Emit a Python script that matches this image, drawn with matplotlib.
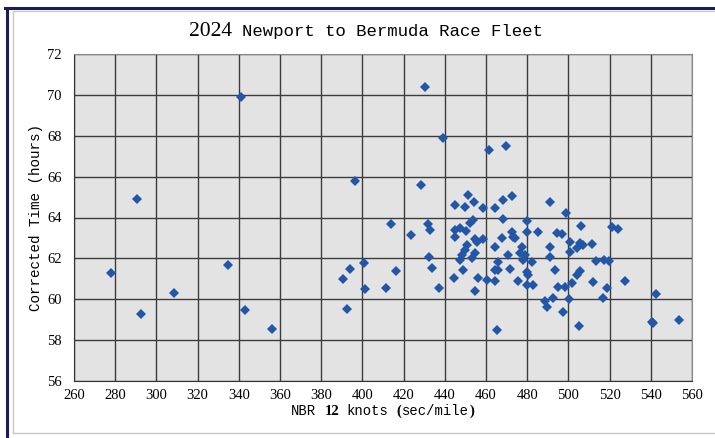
import matplotlib
matplotlib.use("Agg")
import matplotlib.pyplot as plt
from matplotlib.lines import Line2D

# NBR 12 knots (sec/mile) vs corrected time (hours)
nbr = [278, 290.4, 292.7, 308.5, 334.6, 340.9, 343.2, 356, 390.7, 392.7, 394.1, 396.6,
       400.8, 401.3, 411.3, 413.9, 416.2, 423.6,
       428.6, 430.4, 432, 432.8, 432.3, 433.9, 437.2, 439.3,
       444.5, 445, 445, 445, 447.4, 447.4, 448.2, 449, 449.8, 449.8, 450.3, 450.6,
       451.4, 452.2, 453, 453.8, 454.3, 454.7, 454.7, 454.7, 455.4, 456.3, 458.4, 458.7,
       460.6, 461.6, 464.4, 464.4, 464.4, 464.4, 466, 466, 465.5, 467.6, 468.1, 468.4,
       469.7, 470.8, 471.7, 472.5, 472.5, 473.3, 474.1, 475.7, 476.5, 477.3, 478.1, 478.9,
       479.7, 479.7, 479.7, 479.7, 480.5,
       482.2, 483, 485.4, 488.6, 489.4, 491.1, 491.1, 491.1, 492.3, 493.5, 494.3, 495.1,
       496.7, 497.5, 498.3, 498.8,
       500.3, 500.8, 500.8, 501.6, 504, 504, 505.3, 505.6, 505.6, 506.1, 507.3, 511.3,
       511.7, 513.4, 516.6, 517.3, 518.5, 519.9, 521, 523.9, 527.5, 540.4, 541.2, 542.3, 553.8]
hours = [61.3, 64.9, 59.3, 60.3, 61.7, 69.9, 59.45, 58.55, 61.0, 59.5, 61.5, 65.8,
         61.75, 60.5, 60.57, 63.7, 61.36, 63.13,
         65.6, 70.4, 63.7, 63.4, 62.05, 61.52, 60.54, 67.9,
         61.06, 63.07, 63.39, 64.6, 63.47, 61.93, 62.17, 61.44, 62.42, 64.5, 63.36, 62.66,
         65.1, 63.75, 62.0, 63.88, 64.75, 62.25, 62.94, 60.38, 62.82, 61.03, 62.95, 64.45,
         60.95, 67.3, 64.48, 62.58, 61.44, 60.87, 61.44, 61.84, 58.5, 62.99, 63.92, 64.86,
         67.5, 62.17, 61.47, 65.03, 63.31, 63.07, 62.99, 60.87, 62.25, 62.58, 61.93, 62.17,
         63.83, 63.31, 61.31, 60.7, 61.2,
         61.84, 60.7, 63.31, 59.89, 59.61, 64.78, 62.58, 62.09, 60.08, 61.44, 63.26, 60.62,
         63.2, 59.4, 60.62, 64.21,
         60.02, 62.82, 62.33, 60.79, 62.5, 61.2, 58.67, 62.74, 61.36, 63.59, 62.66, 62.71,
         60.84, 61.86, 60.04, 61.93, 60.57, 61.88, 63.53, 63.43, 60.9, 58.91, 58.86, 60.26, 58.99]

xticks = list(range(260, 561, 20))
yticks = list(range(56, 73, 2))

MONO = "Liberation Mono"
SERIF = "Liberation Serif"
W, H = 715, 438


def mixed_line(fig, xc, yb, pieces):
    # several text pieces on one baseline, centred on xc (pixels);
    # each piece is (text, style, gap in px before it)
    r = fig.canvas.get_renderer()
    txts = []
    for s, kw, gap in pieces:
        t = fig.text(0, yb / H, s, ha="left", va="baseline", **kw)
        txts.append(t)
    widths = [t.get_window_extent(r).width for t in txts]
    gaps = [p[2] for p in pieces]
    x = xc - (sum(widths) + sum(gaps)) / 2
    for t, w, g in zip(txts, widths, gaps):
        x += g
        t.set_x(x / W)
        x += w


fig = plt.figure(figsize=(W / 100, H / 100), dpi=100, facecolor="white")
ax = fig.add_axes([74 / W, 1 - 381 / H, (692 - 74) / W, (381 - 54) / H], facecolor="#e3e3e3")

ax.plot(nbr, hours, linestyle="none", marker="D", ms=5.3, mew=0, color="#2356a6", zorder=3)

ax.set_xlim(260, 560)
ax.set_ylim(56, 72)
ax.set_xticks(xticks)
ax.set_yticks(yticks)
ax.grid(True, color="#3c3c3c", lw=1.0)
ax.set_axisbelow(True)
ax.tick_params(axis="y", length=0, pad=9)
ax.tick_params(axis="x", length=0, pad=6)
for lab in ax.get_xticklabels() + ax.get_yticklabels():
    lab.set_fontfamily(SERIF)
    lab.set_fontsize(10.5)
for s in ["top", "right"]:
    ax.spines[s].set_color("#888888")
for s in ["left", "bottom"]:
    ax.spines[s].set_color("#333333")

# y label, all in the mono face
fig.text(36 / W, 1 - ((54 + 381) / 2) / H, "Corrected Time (hours)", rotation=90,
         ha="center", va="center", fontfamily=MONO, fontsize=10.3)

mono_l = dict(fontfamily=MONO, fontsize=10)
bold_s = dict(fontfamily=SERIF, fontsize=10.5, fontweight="bold")
mixed_line(fig, 383, H - 415, [("NBR", mono_l, 0), ("12", bold_s, 8), ("knots", mono_l, 7),
                               ("(", bold_s, 8), ("sec/mile", mono_l, 1), (")", bold_s, 1)])

mixed_line(fig, 366, H - 36, [("2024", dict(fontfamily=SERIF, fontsize=15.5), 0),
                              ("Newport to Bermuda Race Fleet", dict(fontfamily=MONO, fontsize=12.5), 10)])

# window frame
navy = "#1c1c5c"
fig.add_artist(Line2D([5 / W, 1], [1 - 8 / H, 1 - 8 / H], color=navy, lw=2.2))
fig.add_artist(Line2D([6.5 / W, 6.5 / W], [0, 1 - 8 / H], color=navy, lw=2.2))
fig.add_artist(Line2D([13 / W, 1], [1 - 11 / H, 1 - 11 / H], color="#c8c8c8", lw=1))
fig.add_artist(Line2D([13 / W, 13 / W], [1 - 433 / H, 1 - 11 / H], color="#c8c8c8", lw=1))
fig.add_artist(Line2D([13 / W, 1], [1 - 433 / H, 1 - 433 / H], color="#c8c8c8", lw=1))

fig.savefig("out.png", dpi=100)
